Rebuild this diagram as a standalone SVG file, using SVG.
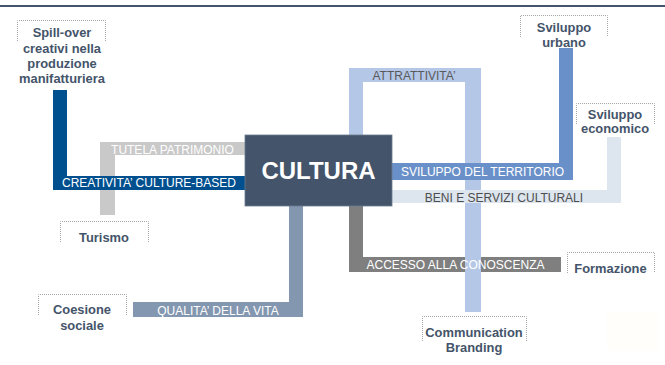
<svg xmlns="http://www.w3.org/2000/svg" width="665" height="365" viewBox="0 0 665 365">
  <style>
    .node-label { font-family: "Liberation Sans", Arial, sans-serif; font-size: 12.9px; font-weight: bold; fill: #44546a; text-anchor: middle; }
    .frame { fill: none; stroke: #a6a6a6; stroke-width: 1; stroke-dasharray: 1 1; }
    .bar-label { font-family: "Liberation Sans", Arial, sans-serif; font-size: 12px; text-anchor: middle; fill: #ffffff; }
    .bar-label.dark { fill: #595959; }
    .core-label { font-family: "Liberation Sans", Arial, sans-serif; font-size: 24px; font-weight: bold; fill: #ffffff; text-anchor: middle; }
  </style>

  <!-- header rule -->
  <rect x="0" y="5" width="665" height="2" fill="#44546a"/>

  <!-- faint panel, lower right -->
  <rect x="607" y="312" width="52" height="39" fill="#fffefb"/>

  <!-- connectors: thick elbow bands leaving the central box -->
  <g id="connectors">
    <!-- Tutela patrimonio -> Turismo -->
    <path d="M245 142 H100 V215 H115 V155 H245 Z" fill="#c9c9c9"/>
    <!-- Creativita' culture-based -> Spill-over -->
    <path d="M245 176 H67 V90 H53 V190 H245 Z" fill="#00508f"/>
    <!-- Qualita' della vita -> Coesione sociale -->
    <path d="M289 206 V302 H133 V317 H303 V206 Z" fill="#8497b0"/>
    <!-- Accesso alla conoscenza -> Formazione -->
    <path d="M349 206 V272 H561 V257 H363 V206 Z" fill="#7f7f7f"/>
    <!-- Attrattivita' -> Communication Branding -->
    <path d="M349 135 V68 H481 V312 H465 V82 H363 V135 Z" fill="#b4c7e7"/>
    <!-- Sviluppo del territorio -> Sviluppo urbano -->
    <path d="M392 163 H559 V48 H573 V180 H392 Z" fill="#6a90c9"/>
    <!-- Beni e servizi culturali -> Sviluppo economico -->
    <path d="M392 190 H607 V137 H621 V203 H392 Z" fill="#dde6ef"/>

    <text class="bar-label" x="172.5" y="154">TUTELA PATRIMONIO</text>
    <text class="bar-label" x="149" y="186.5">CREATIVITA’ CULTURE-BASED</text>
    <text class="bar-label" x="218" y="315">QUALITA’ DELLA VITA</text>
    <text class="bar-label" x="455.5" y="269">ACCESSO ALLA CONOSCENZA</text>
    <text class="bar-label dark" x="414" y="79.5">ATTRATTIVITA’</text>
    <text class="bar-label" x="482.5" y="175.5">SVILUPPO DEL TERRITORIO</text>
    <text class="bar-label dark" x="504" y="201.5" style="fill:#4d4d4d">BENI E SERVIZI CULTURALI</text>
  </g>

  <!-- central node -->
  <g id="cultura">
    <rect x="245" y="135" width="147" height="71" fill="#44546a" stroke="#6b7a8f" stroke-width="0.8"/>
    <text class="core-label" x="318.5" y="179">CULTURA</text>
  </g>

  <!-- outer nodes -->
  <g id="spill-over">
    <path class="frame" d="M17.5 41 V20.5 H105.5 V41"/>
    <text class="node-label" x="62" y="37.3">Spill-over</text>
    <text class="node-label" x="62" y="52.6">creativi nella</text>
    <text class="node-label" x="62" y="67.9">produzione</text>
    <text class="node-label" x="62" y="83.2">manifatturiera</text>
  </g>

  <g id="turismo">
    <path class="frame" d="M60.5 242 V221.5 H148.5 V242"/>
    <text class="node-label" x="104" y="241.5">Turismo</text>
  </g>

  <g id="coesione-sociale">
    <path class="frame" d="M38.5 315 V294.5 H126.5 V315"/>
    <text class="node-label" x="82" y="314.3">Coesione</text>
    <text class="node-label" x="82" y="329.6">sociale</text>
  </g>

  <g id="sviluppo-urbano">
    <path class="frame" d="M520.5 37 V15.5 H607.5 V37"/>
    <text class="node-label" x="564" y="31.5">Sviluppo</text>
    <text class="node-label" x="564" y="46.8">urbano</text>
  </g>

  <g id="sviluppo-economico">
    <path class="frame" d="M576.5 124 V103.5 H654.5 V124"/>
    <text class="node-label" x="615" y="118.5">Sviluppo</text>
    <text class="node-label" x="615" y="133.3">economico</text>
  </g>

  <g id="formazione">
    <path class="frame" d="M567.5 273 V252.5 H654.5 V273"/>
    <text class="node-label" x="610.5" y="272.5">Formazione</text>
  </g>

  <g id="communication-branding">
    <path class="frame" d="M422.5 341 V316.5 H526.5 V341"/>
    <text class="node-label" x="474" y="336.5">Communication</text>
    <text class="node-label" x="474" y="351.6">Branding</text>
  </g>
</svg>
